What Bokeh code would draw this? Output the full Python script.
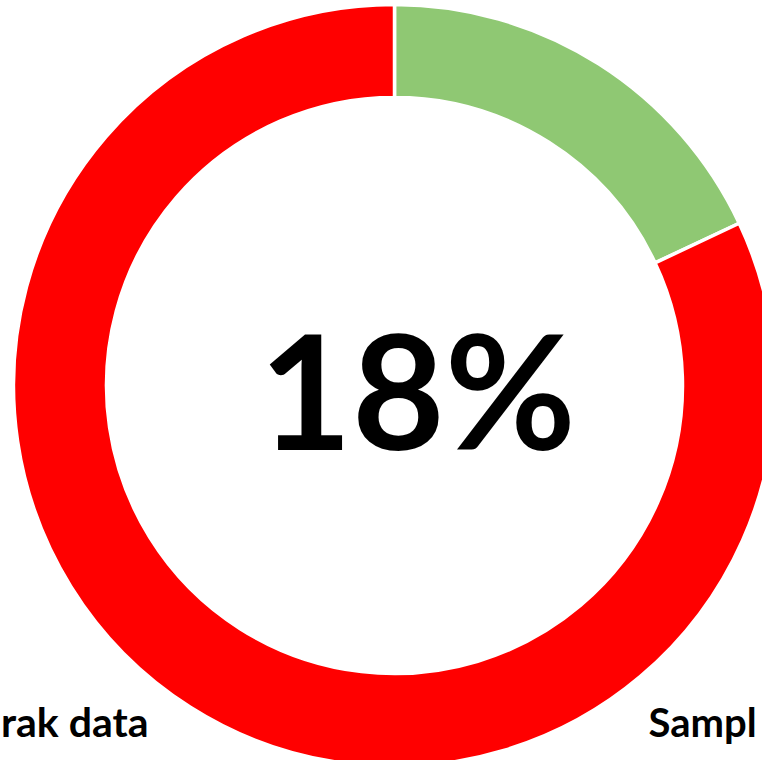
import numpy as np
from bokeh.plotting import figure
from bokeh.models import Range1d, ColumnDataSource
from bokeh.core.properties import value
from bokeh.embed import file_html
from bokeh.resources import INLINE

# Data
categories = ["Sampl", "rak data"]
values = [18, 82]
colors = ["#8FC873", "#FF0000"]
center_label = "18%"

W, H = 762, 760
p = figure(width=W, height=H, output_backend="svg", toolbar_location=None,
           x_range=Range1d(0, W), y_range=Range1d(0, H),
           min_border=0, outline_line_color=None)
p.axis.visible = False
p.grid.visible = False
p.background_fill_color = "white"
p.border_fill_color = "white"

vals = np.array(values, dtype=float)
frac = vals / vals.sum()
cum = np.concatenate([[0], np.cumsum(frac)])
start = np.pi / 2 - cum[1:] * 2 * np.pi
end = np.pi / 2 - cum[:-1] * 2 * np.pi

cx, cy = 394, 375
src = ColumnDataSource(dict(start=start, end=end, color=colors, cat=categories))
p.annular_wedge(x=cx, y=cy, inner_radius=288, outer_radius=381,
                start_angle="start", end_angle="end", fill_color="color",
                line_color="white", line_width=3.5, source=src)

p.text(x=[417], y=[373], text=[center_label], text_font=value("Lato"),
       text_font_style="bold", text_font_size="160px", text_align="center",
       text_baseline="alphabetic", text_color="black")

p.text(x=[648], y=[39], text=[categories[0]], text_font=value("Lato"),
       text_font_style="bold", text_font_size="40px", text_align="left",
       text_baseline="alphabetic", text_color="black")
p.text(x=[148], y=[39], text=[categories[1]], text_font=value("Lato"),
       text_font_style="bold", text_font_size="41px", text_align="right",
       text_baseline="alphabetic", text_color="black")

open("out.html", "w").write(file_html(p, INLINE))
